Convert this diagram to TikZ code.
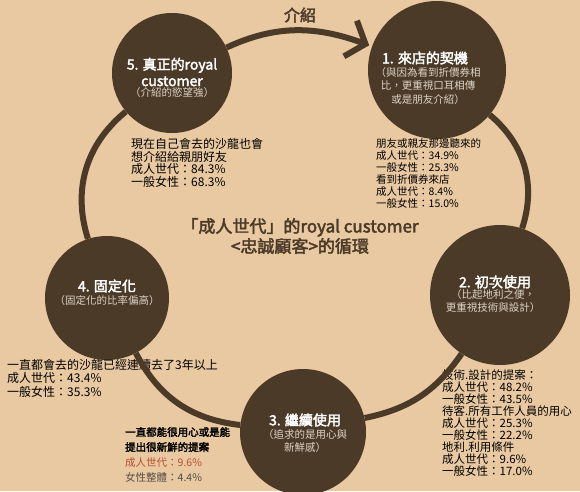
\documentclass[tikz,border=0pt]{standalone}
\usepackage{fontspec}
\setmainfont{Noto Sans CJK TC}[AutoFakeBold=2.5]
\usetikzlibrary{arrows.meta}
\usetikzlibrary{positioning}
\definecolor{bgtan}{RGB}{233,201,161}
\definecolor{ringbrown}{RGB}{75,58,40}
\definecolor{notegray}{RGB}{222,212,198}
\definecolor{hired}{RGB}{188,78,48}
\definecolor{darkgray}{RGB}{85,78,70}

\begin{document}
\begin{tikzpicture}[x=1pt,y=1pt,
      stage/.style={circle, fill=ringbrown, inner sep=0pt},
      stagetitle/.style={inner sep=0pt, align=center, text=white, font=\fontsize{14}{16.5}\selectfont\bfseries},
      stagenote/.style={inner sep=0pt, align=center, text=notegray, font=\fontsize{10.5}{13.5}\selectfont},
      stat/.style={anchor=north west, inner sep=0pt, align=left, text=black},
      ring/.style={draw=ringbrown, line width=6pt}]

      \fill[bgtan] (0,0) rectangle (580,491);
      \useasboundingbox (0,0) rectangle (580,491);

      % stages of the cycle
      \node[stage, minimum size=138] (c1) at (437,421) {};
      \node[stage, minimum size=140] (c2) at (500,196) {};
      \node[stage, minimum size=126] (c3) at (303,59) {};
      \node[stage, minimum size=124] (c4) at (107,193) {};
      \node[stage, minimum size=120] (c5) at (172,418) {};

      \node[stagetitle] (t1) at (425,433) {1. 來店的契機};
      \node[stagenote] (n1) at (428,405) {（與因為看到折價券相\\比，更重視口耳相傳\\或是朋友介紹）};

      \node[stagetitle] (t2) at (495,209) {2. 初次使用};
      \node[stagenote] (n2) at (493,190) {（比起地利之便，\\更重視技術與設計）};

      \node[stagetitle] (t3) at (305,71) {3. 繼續使用};
      \node[stagenote] (n3) at (305,50) {（追求的是用心與\\新鮮感）};

      \node[stagetitle] (t4) at (107,205) {4. 固定化};
      \node[stagenote] (n4) at (107,190) {（固定化的比率偏高）};

      \node[stagetitle] (t5) at (172,419) {5. 真正的royal\\customer};
      \node[stagenote] (n5) at (172,398) {（介紹的慾望強）};

      % titles
      \node[text=ringbrown, font=\fontsize{16}{18}\selectfont\bfseries] (intro) at (300,476) {介紹};
      \node[align=center, text=ringbrown, font=\fontsize{17}{20}\selectfont\bfseries] (title) at (300,255)
        {「成人世代」的royal customer\\<忠誠顧客>的循環};

      % survey figures
      \node[stat, font=\fontsize{10.5}{12}\selectfont] (s1) at (376,353)
        {朋友或親友那邊聽來的\\成人世代：34.9\%\\一般女性：25.3\%\\看到折價券來店\\成人世代：8.4\%\\一般女性：15.0\%};
      \node[stat, font=\fontsize{12}{12.7}\selectfont] (s5) at (131,353)
        {現在自己會去的沙龍也會\\想介紹給親朋好友\\成人世代：84.3\%\\一般女性：68.3\%};
      \node[stat, font=\fontsize{12}{13.5}\selectfont] (s4) at (7,132)
        {一直都會去的沙龍已經連續去了3年以上\\成人世代：43.4\%\\一般女性：35.3\%};
      \node[stat, font=\fontsize{11.5}{12}\selectfont] (s2) at (442,121)
        {技術.設計的提案：\\成人世代：48.2\%\\一般女性：43.5\%\\待客.所有工作人員的用心\\成人世代：25.3\%\\一般女性：22.2\%\\地利.利用條件\\成人世代：9.6\%\\一般女性：17.0\%};
      \node[stat, font=\fontsize{10.5}{15}\selectfont] (s3) at (125,64)
        {\textbf{一直都能很用心或是能}\\\textbf{提出很新鮮的提案}\\\textcolor{hired}{成人世代：9.6\%}\\\textcolor{darkgray}{女性整體：4.4\%}};

      \path[ring]
        (c5) edge [out=25, in=160, shorten >=3pt, -{Straight Barb[length=16pt,width=38pt]}] (c1)
        (c1) edge [bend left=34] (c2)
        (c2) edge [bend left=22] (c3)
        (c3) edge [bend left=28] (c4)
        (c4) edge [bend left=34] (c5);

\end{tikzpicture}
\end{document}
